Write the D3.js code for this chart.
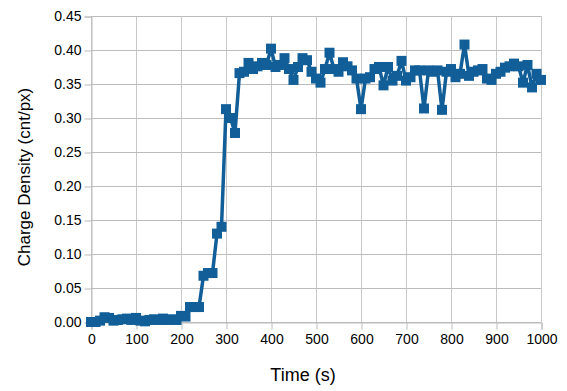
<!DOCTYPE html>
<html>
<head>
<meta charset="utf-8">
<script src="https://cdn.jsdelivr.net/npm/d3@7"></script>
<style>
  body { margin: 0; background: #fff; }
  svg { font-family: "Liberation Sans", Arial, sans-serif; }
</style>
</head>
<body>
<svg id="chart"></svg>
<script>
// time in seconds, one sample every 10 s
const times = d3.range(0, 1001, 10);
// charge density readings (cnt/px)
const density = [
  0.000, 0.000, 0.002, 0.007, 0.006, 0.002, 0.003, 0.004, 0.005, 0.003,
  0.006, 0.002, 0.001, 0.003, 0.004, 0.003, 0.005, 0.003, 0.004, 0.003,
  0.009, 0.008, 0.022, 0.022, 0.022, 0.068, 0.072, 0.072, 0.130, 0.140,
  0.313, 0.300, 0.278, 0.366, 0.368, 0.381, 0.372, 0.376, 0.381, 0.378,
  0.402, 0.375, 0.378, 0.388, 0.372, 0.356, 0.375, 0.388, 0.385, 0.368,
  0.358, 0.352, 0.372, 0.396, 0.372, 0.368, 0.382, 0.376, 0.370, 0.358,
  0.313, 0.358, 0.360, 0.372, 0.375, 0.348, 0.375, 0.355, 0.362, 0.384,
  0.355, 0.360, 0.370, 0.370, 0.314, 0.370, 0.368, 0.370, 0.312, 0.368,
  0.372, 0.360, 0.365, 0.408, 0.362, 0.368, 0.370, 0.372, 0.358, 0.356,
  0.365, 0.368, 0.374, 0.376, 0.380, 0.376, 0.352, 0.378, 0.345, 0.365,
  0.356
];
const xTicks = d3.range(0, 1001, 100);
const yTicks = d3.range(0, 0.451, 0.05);

const config = {
  w: 567,
  h: 391,
  left: 91,
  right: 541,
  top: 16,
  bottom: 322,
};

const data = times.map((t, i) => ({ t, v: density[i] }));

const xScale = d3.scaleLinear().domain([0, 1000]).range([config.left, config.right]);
const yScale = d3.scaleLinear().domain([0, 0.45]).range([config.bottom, config.top]);

const svg = d3.select('#chart')
  .attr('width', config.w)
  .attr('height', config.h);

// grid
svg.append('g')
  .selectAll('line')
  .data(xTicks)
  .join('line')
  .attr('x1', (d) => Math.round(xScale(d)) + 0.5)
  .attr('x2', (d) => Math.round(xScale(d)) + 0.5)
  .attr('y1', config.top)
  .attr('y2', config.bottom)
  .attr('stroke', '#c8c8c8')
  .attr('stroke-width', 1);

svg.append('g')
  .selectAll('line')
  .data(yTicks)
  .join('line')
  .attr('x1', config.left)
  .attr('x2', config.right)
  .attr('y1', (d) => Math.round(yScale(d)) + 0.5)
  .attr('y2', (d) => Math.round(yScale(d)) + 0.5)
  .attr('stroke', '#bcbcbc')
  .attr('stroke-width', 1);

// axes
const xAxis = d3.axisBottom(xScale).tickValues(xTicks).tickFormat(d3.format('d')).tickSize(7).tickPadding(5);
svg.append('g')
  .attr('class', 'x-axis')
  .attr('transform', `translate(0.5,${config.bottom + 0.5})`)
  .call(xAxis)
  .call((g) => g.select('.domain').attr('stroke', '#bcbcbc'))
  .call((g) => g.selectAll('.tick line').attr('stroke', '#bcbcbc'))
  .call((g) => g.selectAll('text').attr('font-size', 14).attr('fill', '#000')
    .attr('font-family', '"Liberation Sans", Arial, sans-serif'));

const yAxis = d3.axisLeft(yScale).tickValues(yTicks).tickFormat(d3.format('.2f')).tickSize(7).tickPadding(3);
svg.append('g')
  .attr('class', 'y-axis')
  .attr('transform', `translate(${config.left + 0.5},0.5)`)
  .call(yAxis)
  .call((g) => g.select('.domain').attr('stroke', '#bcbcbc'))
  .call((g) => g.selectAll('.tick line').attr('stroke', '#bcbcbc'))
  .call((g) => g.selectAll('text').attr('font-size', 14).attr('fill', '#000')
    .attr('font-family', '"Liberation Sans", Arial, sans-serif'));

// right border of plot area
svg.append('line')
  .attr('x1', config.right + 0.5)
  .attr('x2', config.right + 0.5)
  .attr('y1', config.top)
  .attr('y2', config.bottom)
  .attr('stroke', '#c8c8c8');

// series line
const line = d3.line().x((d) => xScale(d.t)).y((d) => yScale(d.v));
svg.append('path')
  .datum(data)
  .attr('d', line)
  .attr('fill', 'none')
  .attr('stroke', '#115e98')
  .attr('stroke-width', 3.5)
  .attr('stroke-linejoin', 'round');

// square markers
const ms = 10;
svg.append('g')
  .selectAll('rect')
  .data(data)
  .join('rect')
  .attr('x', (d) => xScale(d.t) - ms / 2)
  .attr('y', (d) => yScale(d.v) - ms / 2)
  .attr('width', ms)
  .attr('height', ms)
  .attr('fill', '#115e98');

// labels
svg.append('text')
  .attr('text-anchor', 'middle')
  .attr('x', 303)
  .attr('y', 381)
  .attr('font-size', 18)
  .text('Time (s)');

svg.append('text')
  .attr('text-anchor', 'middle')
  .attr('transform', 'translate(30,177) rotate(-90)')
  .attr('font-size', 17)
  .text('Charge Density (cnt/px)');
</script>
</body>
</html>
